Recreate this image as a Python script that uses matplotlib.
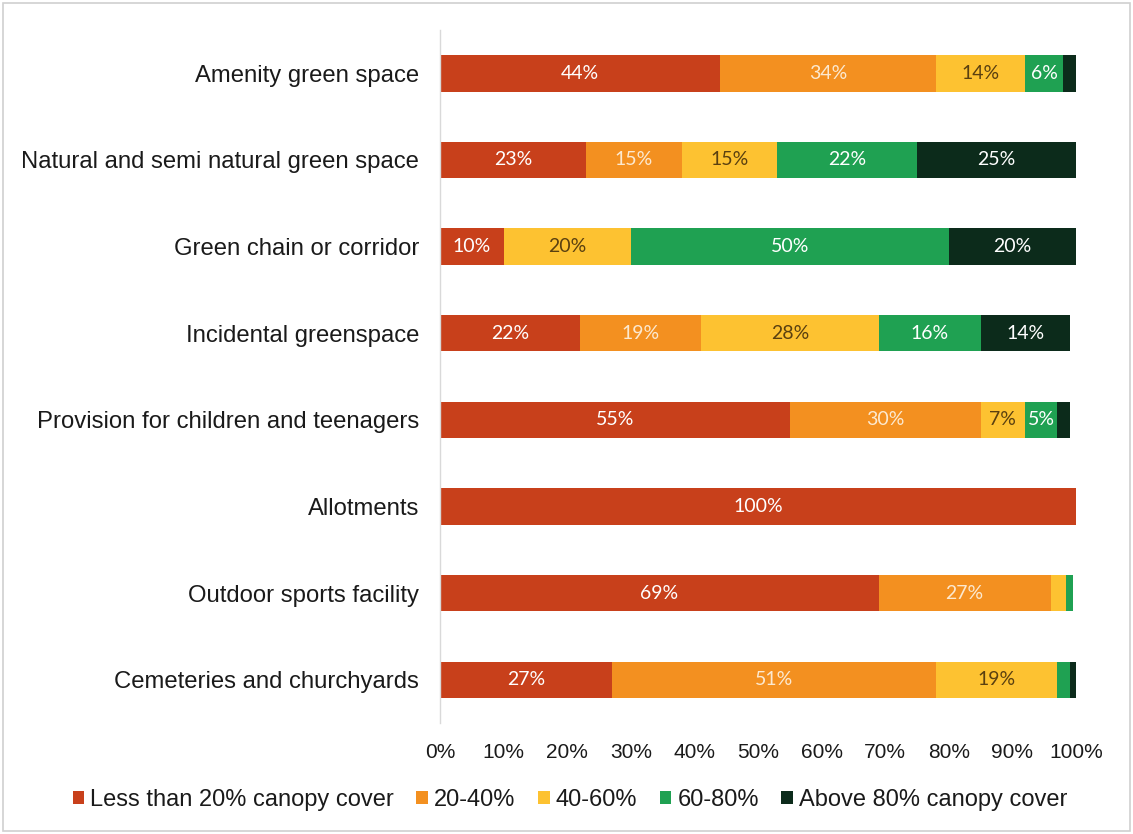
import numpy as np
import matplotlib.pyplot as plt
from matplotlib.patches import Rectangle

# canopy cover share by open space type (percent)
categories = ["Amenity green space", "Natural and semi natural green space",
              "Green chain or corridor", "Incidental greenspace",
              "Provision for children and teenagers", "Allotments",
              "Outdoor sports facility", "Cemeteries and churchyards"]
less_20 = [44, 23, 10, 22, 55, 100, 69, 27]
p20_40 = [34, 15, 0, 19, 30, 0, 27, 51]
p40_60 = [14, 15, 20, 28, 7, 0, 2.5, 19]
p60_80 = [6, 22, 50, 16, 5, 0, 1, 2]
above_80 = [2, 25, 20, 14, 2, 0, 0, 1]
series_names = ["Less than 20% canopy cover", "20-40%", "40-60%", "60-80%",
                "Above 80% canopy cover"]
# labels shown inside the segments (blank = no label)
labels = [
    ["44%", "23%", "10%", "22%", "55%", "100%", "69%", "27%"],
    ["34%", "15%", "", "19%", "30%", "", "27%", "51%"],
    ["14%", "15%", "20%", "28%", "7%", "", "", "19%"],
    ["6%", "22%", "50%", "16%", "5%", "", "", ""],
    ["", "25%", "20%", "14%", "", "", "", ""],
]

colors = ["#C8401B", "#F39020", "#FDC231", "#1FA152", "#0C2B1B"]
text_colors = ["white", "#FCE9D0", "#5A4010", "white", "white"]

plt.rcParams['font.family'] = ['Liberation Sans', 'DejaVu Sans']

fig = plt.figure(figsize=(11.33, 8.34), dpi=100)
ax = fig.add_axes([0.3883, 0.133, 0.5614, 0.831])

series = [less_20, p20_40, p40_60, p60_80, above_80]
y = np.arange(len(categories))
left = np.zeros(len(categories))
for vals, name, col, lab, tc in zip(series, series_names, colors, labels, text_colors):
    vals = np.array(vals, dtype=float)
    ax.barh(y, vals, left=left, height=0.42, color=col, label=name)
    for i, v in enumerate(vals):
        if lab[i]:
            ax.text(left[i] + v / 2, y[i], lab[i], ha="center", va="center",
                    color=tc, fontsize=14, family=["Lato", "DejaVu Sans"])
    left += vals

ax.set_ylim(len(categories) - 0.5, -0.5)
ax.set_xlim(0, 100)
ax.set_yticks(y)
ax.set_yticklabels(categories, fontsize=17.2, color="#1a1a1a")
ax.set_xticks(np.arange(0, 101, 10))
ax.set_xticklabels([f"{t}%" for t in range(0, 101, 10)], fontsize=15, color="#1a1a1a")
ax.tick_params(axis="y", length=0, pad=15)
ax.tick_params(axis="x", length=0, pad=14)
for s in ["top", "right", "bottom"]:
    ax.spines[s].set_visible(False)
ax.spines["left"].set_color("#D9D9D9")
ax.spines["left"].set_linewidth(1)

fig.legend(loc="center", bbox_to_anchor=(0.503, 0.041), ncol=5, frameon=False,
           fontsize=17, handlelength=0.5, handleheight=0.5, handletextpad=0.25,
           columnspacing=0.95, labelcolor="#1a1a1a")

fig.patches.append(Rectangle((0.003, 0.003), 0.994, 0.993, transform=fig.transFigure,
                             fill=False, edgecolor="#D0D0D0", linewidth=1.2))

fig.savefig("out.png", dpi=100)
